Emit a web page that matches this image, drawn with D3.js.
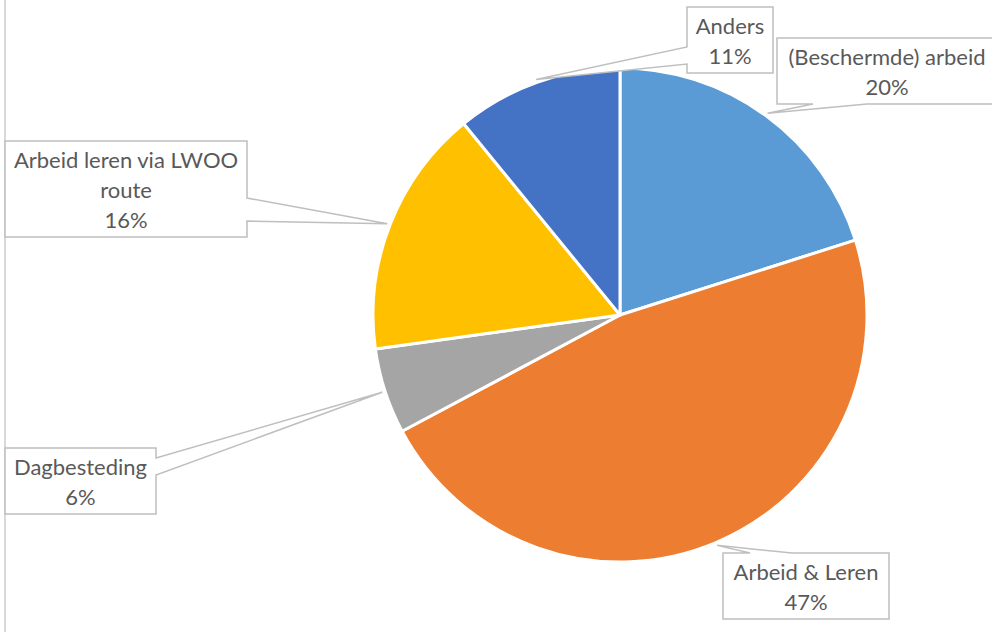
<!DOCTYPE html>
<html>
<head>
<meta charset="utf-8">
<script src="https://cdn.jsdelivr.net/npm/d3@7/dist/d3.min.js"></script>
<style>
  html, body { margin: 0; padding: 0; background: #fff; }
  svg { display: block; }
</style>
</head>
<body>
<svg id="chart" width="992" height="632"></svg>
<script>
// ---- data ----
const categories = ["(Beschermde) arbeid", "Arbeid & Leren", "Dagbesteding", "Arbeid leren via LWOO route", "Anders"];
const values = [20.1, 47.1, 5.6, 16.3, 10.9];
const colors = ["#5B9BD5", "#ED7D31", "#A5A5A5", "#FFC000", "#4472C4"];

// ---- layout (label callout boxes) ----
const boxes = [
  { x: 777, y: 38,  w: 220, side: "bottom", base: [813, 867], cx: 887 },
  { x: 723, y: 553, w: 166, side: "top",    base: [750, 792] },
  { x: 5,   y: 448, w: 151, side: "right",  base: [458, 475] },
  { x: 5,   y: 141, w: 242, side: "right",  base: [198, 221] },
  { x: 687, y: 7,   w: 86,  side: "left",   base: [47, 64] }
];

const W = 992, H = 632;
const cx = 620, cy = 315, R = 247;
const svg = d3.select("#chart");
const fontFamily = "Lato, 'Open Sans', sans-serif";
const fontSize = 22;
const lineH = 30;

// chart area border (left edge)
svg.append("line").attr("x1", 5).attr("x2", 5).attr("y1", 0).attr("y2", H)
  .attr("stroke", "#d9d9d9").attr("stroke-width", 2);

const total = d3.sum(values);
const pie = d3.pie().sort(null).value(d => d)(values);
const arc = d3.arc().innerRadius(0).outerRadius(R);
const apexArc = d3.arc().innerRadius(250).outerRadius(250);

const g = svg.append("g").attr("transform", `translate(${cx},${cy})`);
g.selectAll("path").data(pie).join("path")
  .attr("d", arc)
  .attr("fill", (d, i) => colors[i])
  .attr("stroke", "#fff")
  .attr("stroke-width", 3)
  .attr("stroke-linejoin", "round");

// measuring helper
const measure = svg.append("text").attr("font-family", fontFamily).attr("font-size", fontSize).attr("visibility", "hidden");
function textW(s) { measure.text(s); return measure.node().getComputedTextLength(); }
function wrap(s, maxW) {
  const words = s.split(" ");
  const lines = [];
  let cur = "";
  words.forEach(wd => {
    const t = cur ? cur + " " + wd : wd;
    if (cur && textW(t) > maxW) { lines.push(cur); cur = wd; } else cur = t;
  });
  if (cur) lines.push(cur);
  return lines;
}

const fmt = v => Math.round(v / total * 100) + "%";

pie.forEach((d, i) => {
  const b = boxes[i];
  const lines = wrap(categories[i], b.w - 8);
  lines.push(fmt(values[i]));
  const h = lineH * lines.length + 6;
  const c = apexArc.centroid(d);
  const ax = cx + c[0], ay = cy + c[1];
  const x0 = b.x, y0 = b.y, x1 = b.x + b.w, y1 = b.y + h;
  let pts;
  if (b.side === "top") {
    pts = [[x0, y0], [b.base[0], y0], [ax, ay], [b.base[1], y0], [x1, y0], [x1, y1], [x0, y1]];
  } else if (b.side === "right") {
    pts = [[x0, y0], [x1, y0], [x1, b.base[0]], [ax, ay], [x1, b.base[1]], [x1, y1], [x0, y1]];
  } else if (b.side === "bottom") {
    pts = [[x0, y0], [x1, y0], [x1, y1], [b.base[1], y1], [ax, ay], [b.base[0], y1], [x0, y1]];
  } else {
    pts = [[x0, y0], [x1, y0], [x1, y1], [x0, y1], [x0, b.base[1]], [ax, ay], [x0, b.base[0]]];
  }
  svg.append("path")
    .attr("d", d3.line()(pts) + "Z")
    .attr("fill", "#fff")
    .attr("stroke", "#bfbfbf")
    .attr("stroke-width", 1.5)
    .attr("stroke-linejoin", "miter");
  const tx = b.cx !== undefined ? b.cx : b.x + b.w / 2;
  const t = svg.append("text")
    .attr("font-family", fontFamily)
    .attr("font-size", fontSize)
    .attr("fill", "#595959")
    .attr("text-anchor", "middle");
  lines.forEach((ln, k) => {
    t.append("tspan").attr("x", tx).attr("y", y0 + 27 + k * lineH).text(ln);
  });
});
measure.remove();
</script>
</body>
</html>
